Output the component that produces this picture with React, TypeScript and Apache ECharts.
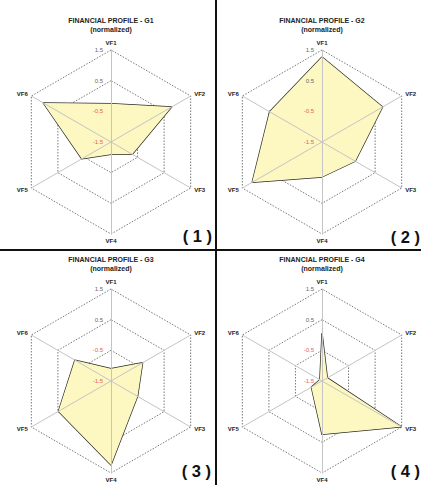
import React, { useEffect, useRef } from "react";
import * as echarts from "echarts";

const indicatorNames = ["VF1", "VF2", "VF3", "VF4", "VF5", "VF6"];
const axisMin = -1.5;
const axisMax = 1.5;
const groupTitles = [
  "FINANCIAL PROFILE - G1",
  "FINANCIAL PROFILE - G2",
  "FINANCIAL PROFILE - G3",
  "FINANCIAL PROFILE - G4",
];
const subTitle = "(normalized)";
const panelTags = ["( 1 )", "( 2 )", "( 3 )", "( 4 )"];
// values in VF1..VF6 order
const g1Values = [-0.25, 0.78, -0.7, -1.1, -0.4, 1.05];
const g2Values = [1.27, 0.78, -0.25, -0.36, 1.13, 0.47];
const g3Values = [-1.1, -0.31, -0.5, 1.24, 0.48, -0.14];
const g4Values = [0.06, -1.3, 1.49, 0.24, -1.1, -1.42];
const groupValues = [g1Values, g2Values, g3Values, g4Values];

// layout (not data)
const centers: [number, number][] = [
  [111, 142],
  [322, 142],
  [111, 381],
  [322, 381],
];
const radius = 92;
const tagPos: [number, number][] = [
  [212, 236],
  [420, 237],
  [211, 471],
  [420, 471],
];
const FONT = "'Liberation Sans', Arial, sans-serif";

// ECharts radar goes counter-clockwise; reorder so VF2 is upper right.
const order = [0, 5, 4, 3, 2, 1];

export default function App() {
  const ref = useRef<HTMLDivElement>(null);
  useEffect(() => {
    document.body.style.margin = "0";
    const chart = echarts.init(ref.current!, null, { renderer: "svg" });
    const baseIndicators = order.map((i) => ({
      name: indicatorNames[i],
      min: axisMin,
      max: axisMax,
    }));
    // lower radars: dashed rings only (behind the filled polygons)
    const lowerRadars = centers.map((c) => ({
      center: c,
      radius,
      shape: "polygon",
      splitNumber: 3,
      startAngle: 90,
      z: 0,
      axisName: { show: false },
      splitArea: { show: false },
      splitLine: {
        lineStyle: { color: "#555", width: 0.8, type: [1.5, 1.5] },
      },
      axisLine: { show: false },
      indicator: baseIndicators,
    }));
    // upper radars: spokes, tick labels and names (above the polygons)
    const upperRadars = centers.map((c) => ({
      center: c,
      radius,
      shape: "polygon",
      splitNumber: 3,
      startAngle: 90,
      z: 5,
      nameGap: 4,
      axisName: {
        color: "#222",
        fontSize: 6,
        fontWeight: "bold",
        fontFamily: FONT,
      },
      splitArea: { show: false },
      splitLine: { show: false },
      axisLine: { lineStyle: { color: "#c4c4c4", width: 1 } },
      indicator: order.map((i) => ({
        name: indicatorNames[i],
        min: axisMin,
        max: axisMax,
        ...(i === 0
          ? {
              axisLabel: {
                show: true,
                margin: 8,
                formatter: (v: number) => (v < 0 ? `{r|${v}}` : `{g|${v}}`),
                rich: {
                  r: { color: "#e8605a", fontSize: 6, fontFamily: FONT },
                  g: { color: "#666", fontSize: 6, fontFamily: FONT },
                },
              },
            }
          : {}),
      })),
    }));
    const series = groupValues.map((vals, k) => ({
      type: "radar",
      radarIndex: k,
      symbol: "none",
      z: 2,
      lineStyle: { color: "#2b2b22", width: 1.4 },
      areaStyle: { color: "#fdf7c2", opacity: 1 },
      data: [{ value: order.map((i) => vals[i]), name: groupTitles[k] }],
    }));
    const gfx: any[] = [];
    centers.forEach((c, k) => {
      gfx.push({
        type: "text",
        x: c[0],
        y: c[1] - 122,
        style: {
          text: groupTitles[k],
          align: "center",
          verticalAlign: "middle",
          fill: "#222",
          font: `bold 7px ${FONT}`,
        },
      });
      gfx.push({
        type: "text",
        x: c[0],
        y: c[1] - 113,
        style: {
          text: subTitle,
          align: "center",
          verticalAlign: "middle",
          fill: "#222",
          font: `bold 7px ${FONT}`,
        },
      });
      gfx.push({
        type: "text",
        x: tagPos[k][0],
        y: tagPos[k][1],
        style: {
          text: panelTags[k],
          align: "right",
          verticalAlign: "middle",
          fill: "#111",
          font: `bold 16.5px ${FONT}`,
        },
      });
    });
    gfx.push({
      type: "line",
      shape: { x1: 216, y1: 0, x2: 216, y2: 485 },
      style: { stroke: "#111", lineWidth: 2 },
    });
    gfx.push({
      type: "line",
      shape: { x1: 0, y1: 250, x2: 421, y2: 250 },
      style: { stroke: "#111", lineWidth: 2 },
    });
    chart.setOption({
      animation: false,
      backgroundColor: "#fff",
      radar: [...lowerRadars, ...upperRadars],
      series,
      graphic: gfx,
    });
    return () => chart.dispose();
  }, []);
  return <div ref={ref} style={{ width: 421, height: 485 }} />;
}
